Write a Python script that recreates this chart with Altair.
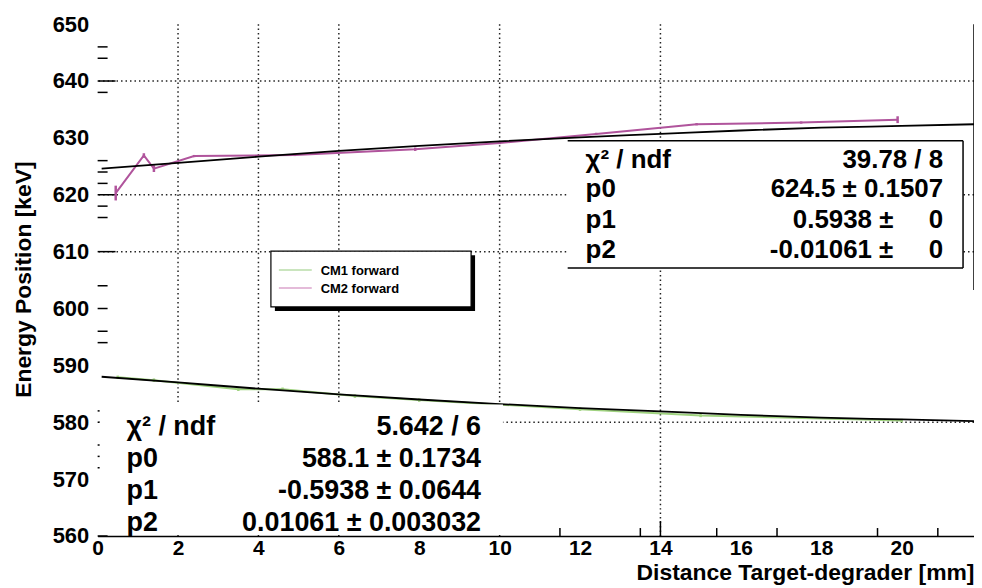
import altair as alt
import pandas as pd

FONT = "Liberation Sans"

# ---- data ----
cm2_x = [0.45, 1.15, 1.4, 2.4, 4.9, 7.9, 10.0, 12.4, 14.9, 17.5, 19.9]
cm2_y = [620.3, 626.9, 624.6, 626.8, 627.0, 628.0, 629.1, 630.7, 632.4, 632.7, 633.2]
cm2_err = [1.3, 0.4, 0.6, 0.2, 0.2, 0.3, 0.2, 0.2, 0.2, 0.2, 0.6]

cm1_x = [0.5, 1.4, 3.5, 4.6, 6.4, 8.0, 12.0, 15.0, 20.0]
cm1_y = [587.9, 587.4, 585.8, 585.8, 584.6, 583.9, 582.3, 581.2, 580.3]
cm1_err = [0.3, 0.3, 0.3, 0.3, 0.3, 0.3, 0.3, 0.3, 0.3]

fit_x = [0.1, 2, 4, 6, 8, 10, 12, 14, 16, 18, 20, 21.8]
cm2_fit = [624.6, 625.6, 626.7, 627.7, 628.6, 629.4, 630.1, 630.7, 631.3, 631.8, 632.1, 632.4]
cm1_fit = [588.0, 587.0, 585.9, 584.9, 584.0, 583.2, 582.5, 581.9, 581.3, 580.8, 580.5, 580.2]

x_ticks = [0, 2, 4, 6, 8, 10, 12, 14, 16, 18, 20]
y_ticks = [560, 570, 580, 590, 600, 610, 620, 630, 640, 650]
x_grid = [2, 4, 6, 10, 14]
y_grid = [580, 610, 620, 640]
y_major_marks = [640, 620, 610]
y_minor_marks = [646, 644, 638, 626, 624, 622, 618, 616, 604, 600, 596, 594, 582, 580, 576, 574, 572, 560]
x_minor_marks = [11.5, 13.5, 15.4, 16.9, 19.4, 20.9]
x_major_marks = [14]

series_names = ["CM1 forward", "CM2 forward"]
series_colors = ["#9fd27f", "#b0549c"]
legend_line_colors = ["#b8dca8", "#dba4cc"]

up_labels = ["χ² / ndf", "p0", "p1", "p2"]
up_values = ["39.78 / 8", "624.5 ± 0.1507", "0.5938 ±", "-0.01061 ±"]
up_zero = ["", "", "0", "0"]
low_labels = ["χ² / ndf", "p0", "p1", "p2"]
low_values = ["5.642 / 6", "588.1 ± 0.1734", "-0.5938 ± 0.0644", "0.01061 ± 0.003032"]

xs = alt.Scale(domain=[0, 21.8], nice=False, zero=False)
ys = alt.Scale(domain=[560, 650], nice=False, zero=False)

W, H = 880, 514

XAX = alt.Axis(
    values=x_ticks, ticks=False, grid=False, domain=True, domainColor="black",
    domainWidth=1.5, labelFont=FONT, labelFontWeight="bold", labelFontSize=21,
    labelColor="black", labelPadding=2, title="Distance Target-degrader [mm]",
    titleFont=FONT, titleFontWeight="bold", titleFontSize=23, titleColor="black",
    titleX=W, titleY=44, titleAlign="right", titleBaseline="alphabetic",
    labelFlush=False, zindex=1)
YAX = alt.Axis(
    values=y_ticks, ticks=False, grid=False, domain=False,
    labelFont=FONT, labelFontWeight="bold", labelFontSize=22, labelColor="black",
    labelPadding=9, title="Energy Position [keV]", titleFont=FONT,
    titleFontWeight="bold", titleFontSize=23, titleColor="black",
    titleX=-74, titleY=256, titleAngle=270, titleAlign="center",
    titleBaseline="middle", labelFlush=False)


def X(f):
    return alt.X(f, scale=xs, axis=XAX)


def Y(f):
    return alt.Y(f, scale=ys, axis=YAX)


layers = []

# grid
layers.append(alt.Chart(pd.DataFrame({"g": x_grid})).mark_rule(
    color="#222", strokeDash=[1.5, 3], strokeWidth=1.5).encode(x=X("g:Q")))
layers.append(alt.Chart(pd.DataFrame({"g": y_grid})).mark_rule(
    color="#222", strokeDash=[1.5, 3], strokeWidth=1.5).encode(y=Y("g:Q")))

# y tick marks (inside)
layers.append(alt.Chart(pd.DataFrame({"v": y_major_marks})).mark_rule(
    color="black", strokeWidth=1.5).encode(
    y=Y("v:Q"), x=alt.value(0), x2=alt.value(18)))
layers.append(alt.Chart(pd.DataFrame({"v": y_minor_marks})).mark_rule(
    color="black", strokeWidth=1.5).encode(
    y=Y("v:Q"), x=alt.value(0), x2=alt.value(10)))
# x tick marks (upward)
layers.append(alt.Chart(pd.DataFrame({"v": x_minor_marks})).mark_rule(
    color="black", strokeWidth=1.5).encode(
    x=X("v:Q"), y=alt.value(H), y2=alt.value(H - 8)))
layers.append(alt.Chart(pd.DataFrame({"v": x_major_marks})).mark_rule(
    color="black", strokeWidth=1.5).encode(
    x=X("v:Q"), y=alt.value(H), y2=alt.value(H - 15)))

# right frame piece
layers.append(alt.Chart(pd.DataFrame({"a": [0]})).mark_rule(
    color="black", strokeWidth=1.5).encode(
    x=alt.value(W), y=alt.value(0), y2=alt.value(267)))

# data series
for xv, yv, ev, col in [(cm1_x, cm1_y, cm1_err, series_colors[0]),
                        (cm2_x, cm2_y, cm2_err, series_colors[1])]:
    df = pd.DataFrame({"x": xv, "y": yv,
                       "lo": [a - b for a, b in zip(yv, ev)],
                       "hi": [a + b for a, b in zip(yv, ev)]})
    layers.append(alt.Chart(df).mark_line(color=col, strokeWidth=2).encode(
        x=X("x:Q"), y=Y("y:Q")))
    layers.append(alt.Chart(df).mark_rule(color=col, strokeWidth=2.5).encode(
        x=X("x:Q"), y=Y("lo:Q"), y2="hi:Q"))

# fits
for fv in [cm1_fit, cm2_fit]:
    df = pd.DataFrame({"x": fit_x, "y": fv})
    layers.append(alt.Chart(df).mark_line(color="black", strokeWidth=1.8,
                                          interpolate="monotone").encode(
        x=X("x:Q"), y=Y("y:Q")))

one = pd.DataFrame({"a": [0]})


def rect(x1, x2, y1, y2, fill, stroke=None, sw=0):
    kw = dict(fill=fill)
    if stroke:
        kw.update(stroke=stroke, strokeWidth=sw)
    return alt.Chart(one).mark_rect(**kw).encode(
        x=alt.value(x1), x2=alt.value(x2), y=alt.value(y1), y2=alt.value(y2))


def hrule(x1, x2, y, color="black", sw=1.5):
    return alt.Chart(one).mark_rule(color=color, strokeWidth=sw).encode(
        x=alt.value(x1), x2=alt.value(x2), y=alt.value(y))


def vrule(x, y1, y2, color="black", sw=1.5):
    return alt.Chart(one).mark_rule(color=color, strokeWidth=sw).encode(
        x=alt.value(x), y=alt.value(y1), y2=alt.value(y2))


def text(t, x, y, align, size, weight="bold", baseline="alphabetic"):
    return alt.Chart(pd.DataFrame({"t": [t]})).mark_text(
        align=align, baseline=baseline, font=FONT, fontWeight=weight,
        fontSize=size, color="black").encode(
        x=alt.value(x), y=alt.value(y), text="t:N")


# legend box with shadow
layers.append(rect(178, 379, 232, 288, "black"))
layers.append(rect(174, 375, 228, 284, "white", "black", 1.2))
for i, (name, lc) in enumerate(zip(series_names, legend_line_colors)):
    yy = 247 + i * 18
    layers.append(hrule(182, 215, yy, lc, 1.5))
    layers.append(text(name, 224, yy + 1, "left", 13, baseline="middle"))

# upper stats box
layers.append(rect(472, 869, 117, 245, "white"))
layers.append(hrule(472, 869, 117))
layers.append(hrule(472, 869, 245))
layers.append(vrule(869, 117, 245))
up_base = [144, 174, 205, 235]
for lab, val, z, b in zip(up_labels, up_values, up_zero, up_base):
    layers.append(text(lab, 490, b, "left", 26))
    if z:
        layers.append(text(val, 799, b, "right", 26))
        layers.append(text(z, 849, b, "right", 26))
    else:
        layers.append(text(val, 849, b, "right", 26))

# lower stats box
layers.append(rect(2, 407, 382, H - 1, "white"))
low_base = [413, 445, 477, 509]
for lab, val, b in zip(low_labels, low_values, low_base):
    layers.append(text(lab, 29, b, "left", 27))
    layers.append(text(val, 385, b, "right", 27))

chart = alt.layer(*layers).properties(
    width=W, height=H,
    autosize=alt.AutoSizeParams(type="none"),
    padding={"left": 90, "top": 15, "right": 0, "bottom": 50},
    background="white",
).configure_view(stroke=None)

chart.save("out.html", embed_options={"renderer": "svg", "actions": False})
